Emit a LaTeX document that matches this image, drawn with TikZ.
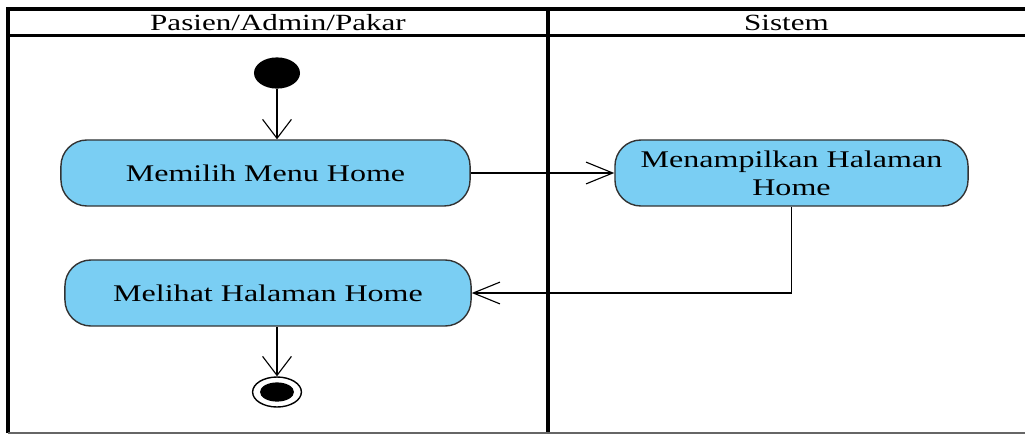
\documentclass[tikz,border=0pt]{standalone}
\usepackage{fontspec}
\setmainfont{Liberation Serif}[FakeStretch=1.34]
\usepackage{tikz}
\usetikzlibrary{arrows.meta,positioning,shapes.geometric}
\definecolor{actblue}{RGB}{122,206,243}

\begin{document}
\begin{tikzpicture}[x=0.025cm,y=-0.025cm,
    lane/.style={line width=2.4pt},
    act/.style={draw=black!80,line width=1pt,fill=actblue,rounded corners=0.65cm,
      minimum height=1.65cm,align=center,font=\fontsize{17}{20}\selectfont},
    varrow/.style={line width=0.8pt,-{Straight Barb[length=13.5pt,width=20.5pt]}},
    harrow/.style={line width=0.8pt,-{Straight Barb[length=19pt,width=15.5pt]}},
    lanetitle/.style={font=\fontsize{16.5}{20}\selectfont}]
    \useasboundingbox (0,0) rectangle (1025,435);
    \draw[lane] (8,433) -- (8,9) -- (1025,9);
    \draw[lane] (8,35.5) -- (1025,35.5);
    \draw[lane] (548,9) -- (548,433);
    \draw[black!60,line width=0.8pt] (8,433) -- (1025,433);
    \node (user) [lanetitle] at (278,23) {Pasien/Admin/Pakar};
    \node (sys) [lanetitle] at (786.5,23) {Sistem};
    \node (start) [ellipse,fill,inner sep=0pt,minimum width=1.15cm,minimum height=0.78cm] at (277,73) {};
    \node (choose) [act,minimum width=10.225cm] at (265.5,173) {Memilih Menu Home};
    \node (show) [act,minimum width=8.825cm] at (791.5,173) {Menampilkan Halaman\\Home};
    \node (view) [act,minimum width=10.15cm] at (268,293) {Melihat Halaman Home};
    \node (end) [ellipse,draw,line width=1pt,inner sep=0pt,minimum width=1.22cm,minimum height=0.75cm] at (277,392) {};
    \node (endin) [ellipse,fill,inner sep=0pt,minimum width=0.85cm,minimum height=0.48cm] at (end) {};
    \draw[varrow] (start) -- (start |- choose.north);
    \draw[harrow] (choose.east) -- (show.west);
    \draw[harrow] (show.south) |- (view.east);
    \draw[varrow] (end |- view.south) -- (end.north);
  \end{tikzpicture}
\end{document}
